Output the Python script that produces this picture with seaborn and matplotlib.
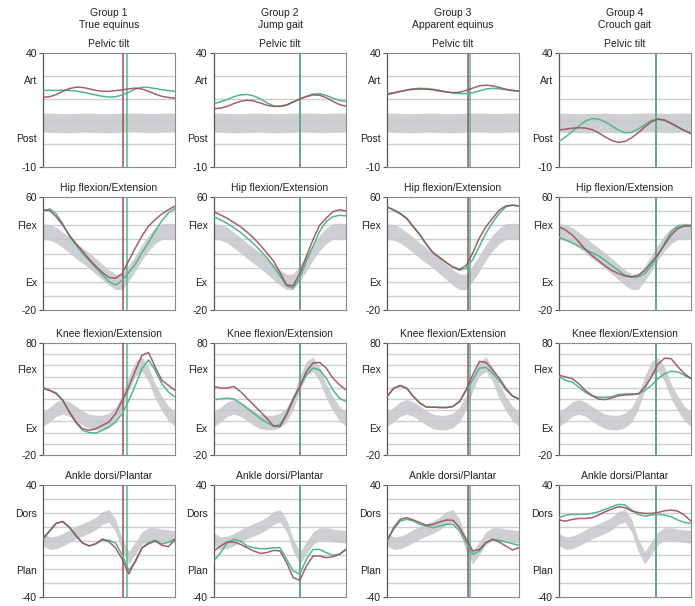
#Gait kinematics of four groups: pelvis, hip, knee and ankle in the sagittal plane
#Red and green = the two limbs, grey band = normal reference, vertical lines = toe off

import numpy as np
import pandas as pd
import matplotlib
matplotlib.use("Agg")
import matplotlib.pyplot as plt
import seaborn as sns

#Percent of the gait cycle (every 5 %)
pct = list(range(0, 101, 5))

#Column headers and panel titles
groups = ["Group 1\nTrue equinus", "Group 2\nJump gait", "Group 3\nApparent equinus", "Group 4\nCrouch gait"]
joints = ["Pelvic tilt", "Hip flexion/Extension", "Knee flexion/Extension", "Ankle dorsi/Plantar"]

#Axis ranges and the word labels on the y axis
ylims = [(-10, 40), (-20, 60), (-20, 80), (-40, 40)]
word_labels = [["Post", "Art"], ["Ex", "Flex"], ["Ex", "Flex"], ["Plan", "Dors"]]
word_values = [[2.7, 28], [0, 40], [4.5, 56.5], [-21, 20]]

#Normal reference band (mean and half width)
pelvis_norm = [9.5, 9.4, 9.3, 9.2, 9.2, 9.3, 9.4, 9.4, 9.3, 9.2, 9.2, 9.3, 9.4, 9.5, 9.5, 9.4, 9.3, 9.3, 9.4, 9.5, 9.5]
pelvis_sd = 4.2
hip_norm = [35.5, 35, 33, 29.5, 26, 22, 18.5, 15, 11, 7, 3, 0, 0, 6, 13, 21, 27.5, 32.5, 35.5, 36, 35.5]
hip_sd = 5.5
knee_norm = [12, 16, 21, 23, 21, 17, 13, 10, 9, 9, 11, 16, 27, 44, 57, 61, 52, 37, 26, 17, 12]
knee_sd = 6.5
ankle_norm = [1, -1.5, -1, 1, 3.5, 6, 8, 10, 12.5, 16.5, 18, 11, -3, -12, -5, 2, 5, 5, 4, 3.5, 3]
ankle_sd = 4.5

#Group 1 - True equinus
pelvis_g1_red = [20.6, 20.8, 21.8, 23.2, 24.4, 25.0, 24.9, 24.3, 23.6, 23.2, 23.2, 23.5, 23.8, 24.3, 24.6, 24.2, 23.2, 22.0, 21.0, 20.5, 20.2]
pelvis_g1_green = [23.6, 23.6, 23.6, 23.7, 23.6, 23.3, 22.8, 22.2, 21.6, 21.0, 20.7, 20.8, 21.6, 22.8, 24.2, 25.0, 24.9, 24.4, 23.9, 23.5, 23.2]
hip_g1_red = [51, 50.5, 46, 40, 33, 27, 21.5, 16, 11, 6.5, 3, 2.5, 5.6, 15, 24, 32.4, 39.4, 44, 48, 51, 53.5]
hip_g1_green = [49.5, 51.6, 48, 41, 32, 26, 20, 15, 10, 5, 0, -2.3, 0.9, 6.7, 12.6, 20.7, 27.8, 36, 43, 48.8, 51.8]
knee_g1_red = [40, 37.7, 34.8, 28.8, 18.4, 9.5, 3.5, 2, 3.5, 6.5, 9.5, 16.9, 28.8, 40.7, 55.6, 69, 71.5, 58.6, 46.7, 42.2, 37.7]
knee_g1_green = [39.2, 37.7, 35.4, 28.8, 18.4, 8.6, 2, 0, -0.4, 2, 5, 9.5, 16.9, 28.8, 42.2, 57.1, 65, 55.6, 43.7, 36.3, 31.8]
ankle_g1_red = [1.5, 7, 12.5, 14, 10, 4, -1.5, -3.5, -2, 1.5, -0.5, -5, -13, -23.5, -14, -5, -2, 0, -3, -4, 1]
ankle_g1_green = [1.8, 7.5, 12.8, 13.8, 9.5, 3.5, -1.5, -3.5, -2, 0.5, 0.5, -1.5, -10, -21, -15, -5, -1, 0.5, -2, -1, 1.5]

#Group 2 - Jump gait
pelvis_g2_red = [15.6, 15.8, 16.6, 17.8, 18.8, 19.3, 19.0, 18.1, 17.1, 16.6, 16.6, 17.2, 18.6, 19.8, 20.9, 21.6, 21.5, 20.4, 18.8, 17.4, 16.6]
pelvis_g2_green = [17.8, 18.6, 19.6, 20.8, 21.6, 21.8, 21.2, 19.9, 18.2, 16.8, 16.6, 17.2, 18.4, 19.8, 21.0, 22.0, 22.1, 21.4, 20.2, 19.2, 18.8]
hip_g2_red = [49.5, 47.3, 44.9, 42, 39, 35.2, 31, 26, 20.5, 14.7, 6.5, -2.3, -2.8, 6, 18, 29.8, 40, 45, 49.5, 51, 50]
hip_g2_green = [46, 43.8, 41.4, 38.3, 35, 31, 27, 22, 17, 11, 4.2, -3, -4.5, 2.5, 14.7, 25, 35.6, 42.6, 46, 47, 46.7]
knee_g2_red = [41.2, 39.7, 39.7, 41.2, 36.7, 30.7, 24.8, 18.8, 12.8, 6, 5.4, 15.8, 29.3, 41.2, 54.6, 62.1, 62.7, 57.6, 48.7, 42.7, 38.2]
knee_g2_green = [29.3, 30.1, 30.7, 30.1, 26.3, 21.8, 17.3, 12.8, 9, 6, 6.9, 17.3, 30.7, 41.2, 51.6, 57.6, 56.1, 48.7, 38.2, 30.7, 27.8]
ankle_g2_red = [-7.1, -3.6, -0.7, -0.7, -2.4, -4.8, -7.1, -8.8, -8.3, -6.7, -7.1, -15.5, -26.2, -28, -17.9, -10.7, -10.7, -11.9, -11.2, -9.5, -6]
ankle_g2_green = [-14.3, -8.3, -1.2, 1.2, 0, -3.6, -4.8, -5.5, -5.5, -4.8, -4.8, -13.1, -21.4, -23.5, -13.1, -6, -6, -8.3, -10.2, -9.5, -6]

#Group 3 - Apparent equinus
pelvis_g3_red = [21.8, 22.4, 23.1, 23.7, 24.1, 24.2, 24.1, 23.8, 23.3, 22.9, 22.6, 22.8, 23.6, 24.6, 25.6, 25.9, 25.6, 24.9, 24.1, 23.6, 23.3]
pelvis_g3_green = [22.2, 22.6, 23.2, 23.8, 24.3, 24.5, 24.4, 24.1, 23.6, 23.0, 22.5, 22.2, 22.2, 22.6, 23.4, 24.2, 24.5, 24.3, 23.9, 23.5, 23.3]
hip_g3_red = [53, 51, 48.4, 45, 39, 33.3, 26.3, 20.5, 17, 13.5, 10.5, 8.8, 11.5, 20.5, 31, 39, 45, 50.7, 53.7, 54.2, 53.7]
hip_g3_green = [53, 50.5, 48, 44.5, 38.5, 33, 26, 20.5, 17, 13.5, 10.2, 8.2, 9.5, 15.8, 25, 34.4, 42, 48.4, 53, 54.2, 53.7]
knee_g3_red = [32.2, 39.7, 42.1, 39.7, 32.2, 26.3, 22.7, 22.7, 22.4, 22.4, 23.3, 27.8, 38.2, 51.6, 63.6, 62.7, 56.1, 48.7, 39.7, 32.8, 29.9]
knee_g3_green = [32.2, 39.2, 41.8, 39.4, 32.2, 26.3, 22.7, 22.7, 22.4, 22.4, 23.3, 27.8, 38.2, 47.2, 57.6, 58.2, 53.1, 46.3, 38.2, 32.8, 29.9]
ankle_g3_red = [0, 9.5, 15.5, 16.7, 15, 13.1, 11.2, 11.9, 13.6, 15, 14.8, 9.5, 1.2, -7.1, -6, -1.2, 1.2, -0.7, -3.6, -6.4, -4.8]
ankle_g3_green = [0, 8.3, 14.3, 15.5, 14.3, 11.9, 10.7, 9.5, 10.7, 11.9, 11.9, 7.1, -1.2, -9.5, -7.1, -1.2, 1.2, 0.5, -0.7, -1.9, -3.1]

#Group 4 - Crouch gait
pelvis_g4_red = [6.3, 6.6, 7.0, 7.2, 7.1, 6.4, 5.0, 3.2, 1.6, 0.8, 1.2, 2.8, 5.0, 7.6, 9.8, 11.0, 10.6, 9.2, 7.6, 6.0, 4.6]
pelvis_g4_green = [1.2, 3.2, 5.6, 8.0, 10.2, 11.2, 11.0, 9.8, 8.0, 6.2, 5.0, 5.2, 6.6, 8.6, 10.4, 11.0, 10.4, 9.0, 7.4, 6.0, 4.9]
hip_g4_red = [38.9, 36.6, 33.1, 28.3, 22.9, 18.6, 14.9, 11.2, 8, 5.8, 4.1, 3.4, 4.6, 8, 13.7, 19.4, 26.3, 33.1, 37.7, 39.5, 39.5]
hip_g4_green = [31.5, 29.5, 27.4, 25.2, 22.9, 20.6, 18.3, 15, 11.4, 8, 4.6, 3.4, 3.4, 5.7, 11.4, 18.7, 27.4, 35.4, 39.3, 40, 40]
knee_g4_red = [51.2, 49.7, 48.2, 43.6, 37.6, 33, 30, 29.4, 30.9, 33, 33.6, 33.9, 34.5, 40.6, 49.7, 61.2, 66.4, 66, 58.8, 52.7, 48.2]
knee_g4_green = [49.7, 46.7, 45.2, 40.6, 36, 33, 31.5, 31.5, 32.1, 33.9, 34.5, 34.5, 34.5, 37.6, 42.1, 48.2, 52.7, 54.8, 54.2, 51.2, 48.2]
ankle_g4_red = [15, 14.2, 15.4, 16.1, 16.1, 16.6, 18.5, 20.9, 22.8, 24.5, 23.8, 21.4, 20.4, 19.7, 19.7, 20.4, 21.6, 22.1, 21.4, 18.5, 14.2]
ankle_g4_green = [16.6, 18.5, 19, 19, 19.2, 19.7, 20.9, 22.6, 24.5, 26.2, 25.7, 22.1, 19, 17.8, 18.5, 19, 18.5, 17.3, 15, 13.3, 12.6]

#Toe off (% of gait cycle) for each group
toe_off_red = [60.5, 65, 61.2, 73.5]
toe_off_green = [63.5, 65, 62.6, 73.5]

norms = [(pelvis_norm, pelvis_sd), (hip_norm, hip_sd), (knee_norm, knee_sd), (ankle_norm, ankle_sd)]
red_curves = [[pelvis_g1_red, pelvis_g2_red, pelvis_g3_red, pelvis_g4_red],
              [hip_g1_red, hip_g2_red, hip_g3_red, hip_g4_red],
              [knee_g1_red, knee_g2_red, knee_g3_red, knee_g4_red],
              [ankle_g1_red, ankle_g2_red, ankle_g3_red, ankle_g4_red]]
green_curves = [[pelvis_g1_green, pelvis_g2_green, pelvis_g3_green, pelvis_g4_green],
                [hip_g1_green, hip_g2_green, hip_g3_green, hip_g4_green],
                [knee_g1_green, knee_g2_green, knee_g3_green, knee_g4_green],
                [ankle_g1_green, ankle_g2_green, ankle_g3_green, ankle_g4_green]]

sns.set_theme(style="white")
plt.rcParams["font.family"] = ["Liberation Sans", "DejaVu Sans"]

RED = "#9c4f5b"
GREEN = "#4fb98c"
GRID = "#cbced5"
BAND = "#c6c7cc"
FS = 7.5

fig = plt.figure(figsize=(6.95, 6.06), dpi=100)

#Axes layout in pixels (left edges, top edges, sizes)
W, H = 695, 606
col_left = [43, 214, 387, 559]
row_top = [53, 197, 343, 485]
ax_w = 132
ax_h = [114, 113, 112, 112]

for r in range(4):
    lo, hi = ylims[r]
    mean, sd = norms[r]
    for c in range(4):
        ax = fig.add_axes([col_left[c] / W, 1 - (row_top[r] + ax_h[r]) / H, ax_w / W, ax_h[r] / H])

        #Horizontal grid every 10 degrees
        for g in range(lo + 10, hi, 10):
            ax.axhline(g, color=GRID, lw=1.0, zorder=1)

        #Normal reference band
        m = np.array(mean)
        ax.fill_between(pct, m - sd, m + sd, color=BAND, alpha=0.85, lw=0, zorder=2)

        #Toe off lines
        ax.axvline(toe_off_red[c], color=RED, lw=1.1, zorder=3)
        ax.axvline(toe_off_green[c], color=GREEN, lw=1.1, zorder=4)

        #The two curves
        df = pd.DataFrame({"pct": pct, "red": red_curves[r][c], "green": green_curves[r][c]})
        sns.lineplot(data=df, x="pct", y="green", ax=ax, color=GREEN, lw=1.1, zorder=5)
        sns.lineplot(data=df, x="pct", y="red", ax=ax, color=RED, lw=1.1, alpha=0.9, zorder=6)

        ax.set_xlim(0, 100)
        ax.set_ylim(lo, hi)
        ax.set_xticks([])
        ax.set_yticks([lo, hi])
        ax.set_yticklabels([str(lo), str(hi)], fontsize=FS, color="#222222")
        ax.set_yticks(word_values[r], minor=True)
        ax.set_yticklabels(word_labels[r], minor=True, fontsize=FS, color="#222222")
        ax.tick_params(axis="y", which="major", left=True, length=3, width=0.8, color="#555555", pad=1.5)
        ax.tick_params(axis="y", which="minor", left=True, length=0, pad=4.5)
        ax.set_xlabel("")
        ax.set_ylabel("")
        for side in ["top", "right", "bottom"]:
            ax.spines[side].set_color("#8a8a8a")
            ax.spines[side].set_linewidth(0.8)
        ax.spines["left"].set_color("#555555")
        ax.spines["left"].set_linewidth(0.9)
        ax.set_title(joints[r], fontsize=FS, color="#222222", pad=4)

#Group headers
for c in range(4):
    fig.text((col_left[c] + ax_w / 2) / W, 1 - 19 / H, groups[c], ha="center", va="center",
             fontsize=FS, color="#222222", linespacing=1.25)

fig.savefig("out.png", dpi=100)
